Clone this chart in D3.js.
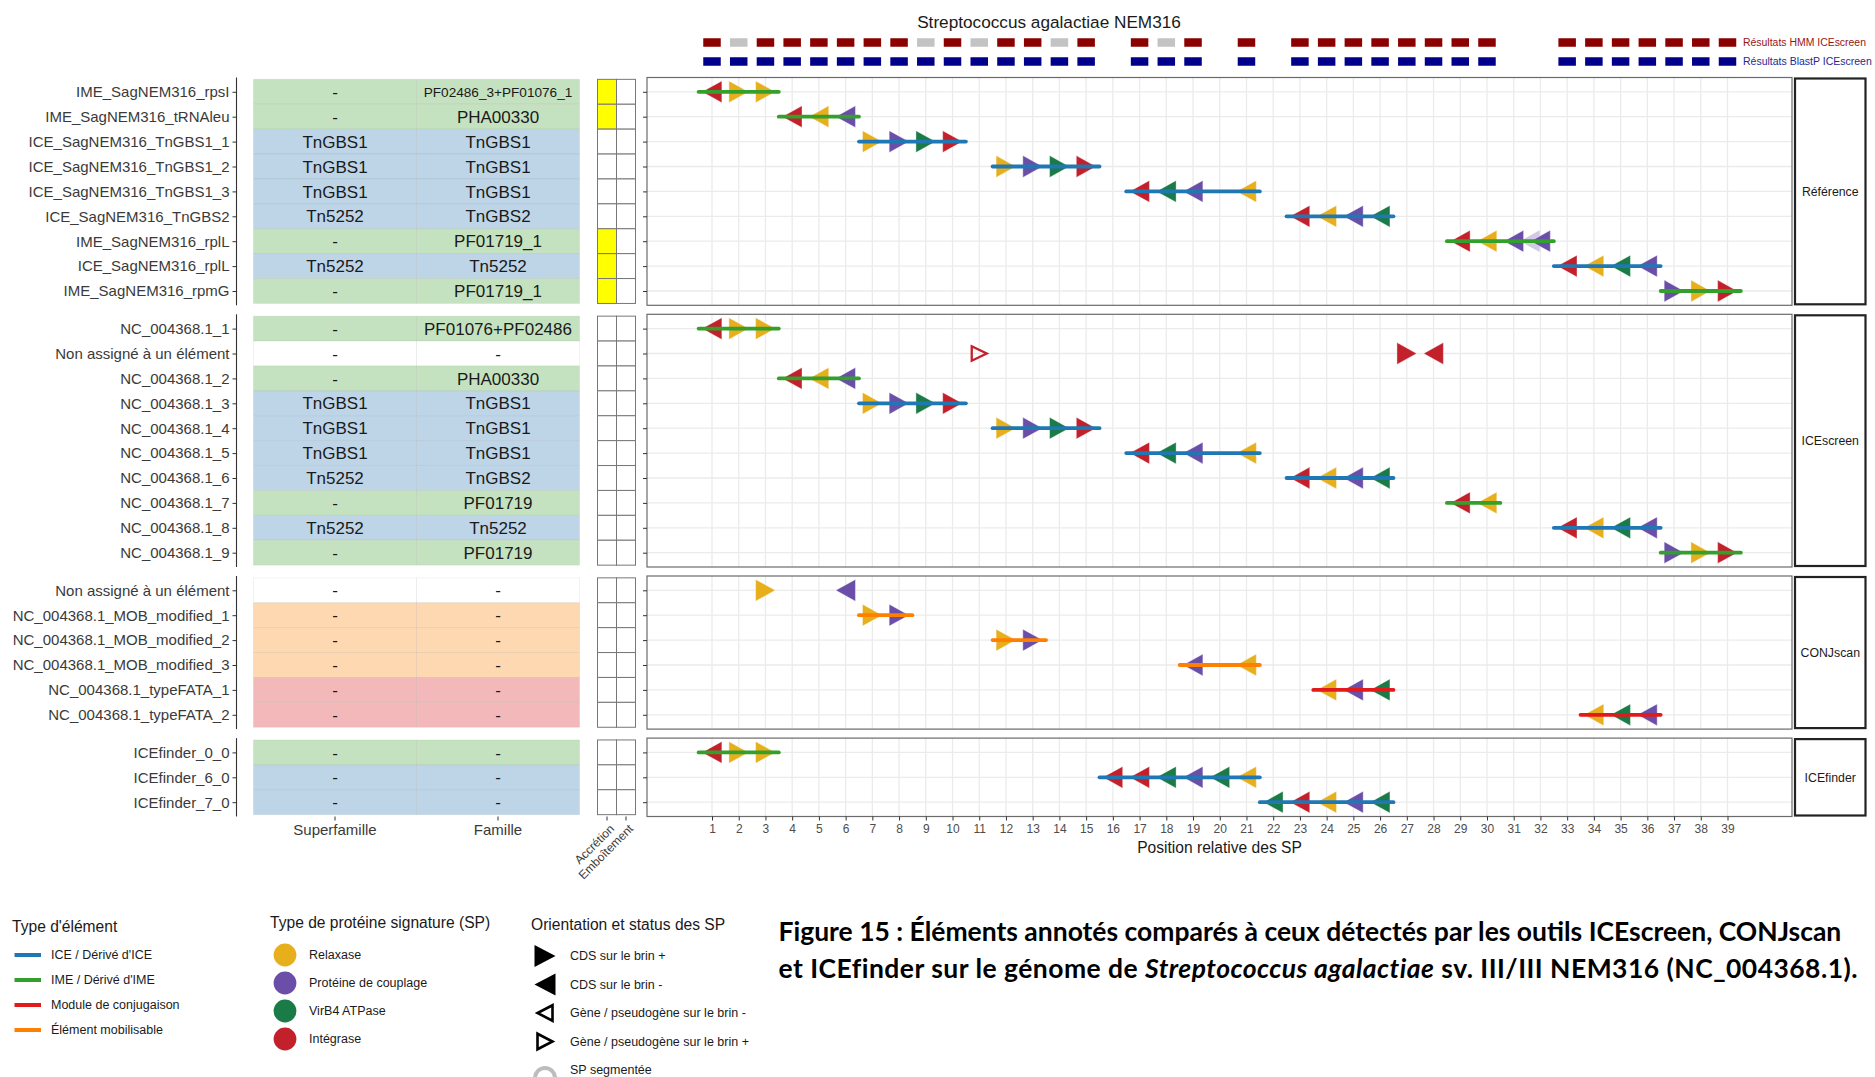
<!DOCTYPE html>
<html><head><meta charset="utf-8">
<script src="https://cdn.jsdelivr.net/npm/d3@7"></script>
<style>
body{margin:0;background:#fff}
svg{display:block}
text{font-family:"Liberation Sans",Arial,Helvetica,sans-serif}
</style>
</head><body>
<svg id="c" width="1875" height="1077"></svg>
<script>
// ================= DATA =================
const chartTitle = "Streptococcus agalactiae NEM316";
const facets = ["Référence", "ICEscreen", "CONJscan", "ICEfinder"];
const positions = d3.range(1, 40);
const hmmPositions = [1,2,3,4,5,6,7,8,9,10,11,12,13,14,15,17,18,19,21,23,24,25,26,27,28,29,30,33,34,35,36,37,38,39];
const hmmGrey = [2, 9, 11, 14, 18];
const blastPositions = [1,2,3,4,5,6,7,8,9,10,11,12,13,14,15,17,18,19,21,23,24,25,26,27,28,29,30,33,34,35,36,37,38,39];
const tableColumns = ["Superfamille", "Famille"];
const flagColumns = ["Accrétion", "Emboîtement"];

// rows: [name, superfamille, famille, category, accretion]
const rowsReference = [
  ["IME_SagNEM316_rpsI", "-", "PF02486_3+PF01076_1", "IME", 1],
  ["IME_SagNEM316_tRNAleu", "-", "PHA00330", "IME", 1],
  ["ICE_SagNEM316_TnGBS1_1", "TnGBS1", "TnGBS1", "ICE", 0],
  ["ICE_SagNEM316_TnGBS1_2", "TnGBS1", "TnGBS1", "ICE", 0],
  ["ICE_SagNEM316_TnGBS1_3", "TnGBS1", "TnGBS1", "ICE", 0],
  ["ICE_SagNEM316_TnGBS2", "Tn5252", "TnGBS2", "ICE", 0],
  ["IME_SagNEM316_rplL", "-", "PF01719_1", "IME", 1],
  ["ICE_SagNEM316_rplL", "Tn5252", "Tn5252", "ICE", 1],
  ["IME_SagNEM316_rpmG", "-", "PF01719_1", "IME", 1]
];
const rowsICEscreen = [
  ["NC_004368.1_1", "-", "PF01076+PF02486", "IME", 0],
  ["Non assigné à un élément", "-", "-", "NA", 0],
  ["NC_004368.1_2", "-", "PHA00330", "IME", 0],
  ["NC_004368.1_3", "TnGBS1", "TnGBS1", "ICE", 0],
  ["NC_004368.1_4", "TnGBS1", "TnGBS1", "ICE", 0],
  ["NC_004368.1_5", "TnGBS1", "TnGBS1", "ICE", 0],
  ["NC_004368.1_6", "Tn5252", "TnGBS2", "ICE", 0],
  ["NC_004368.1_7", "-", "PF01719", "IME", 0],
  ["NC_004368.1_8", "Tn5252", "Tn5252", "ICE", 0],
  ["NC_004368.1_9", "-", "PF01719", "IME", 0]
];
const rowsCONJscan = [
  ["Non assigné à un élément", "-", "-", "NA", 0],
  ["NC_004368.1_MOB_modified_1", "-", "-", "MOB", 0],
  ["NC_004368.1_MOB_modified_2", "-", "-", "MOB", 0],
  ["NC_004368.1_MOB_modified_3", "-", "-", "MOB", 0],
  ["NC_004368.1_typeFATA_1", "-", "-", "CONJ", 0],
  ["NC_004368.1_typeFATA_2", "-", "-", "CONJ", 0]
];
const rowsICEfinder = [
  ["ICEfinder_0_0", "-", "-", "IME", 0],
  ["ICEfinder_6_0", "-", "-", "ICE", 0],
  ["ICEfinder_7_0", "-", "-", "ICE", 0]
];

// elements: [rowIndex, type, firstSP, lastSP]
const elementsReference = [[0,"IME",1,3],[1,"IME",4,6],[2,"ICE",7,10],[3,"ICE",12,15],[4,"ICE",17,21],[5,"ICE",23,26],[6,"IME",29,32],[7,"ICE",33,36],[8,"IME",37,39]];
const elementsICEscreen = [[0,"IME",1,3],[2,"IME",4,6],[3,"ICE",7,10],[4,"ICE",12,15],[5,"ICE",17,21],[6,"ICE",23,26],[7,"IME",29,30],[8,"ICE",33,36],[9,"IME",37,39]];
const elementsCONJscan = [[1,"MOB",7,8],[2,"MOB",12,13],[3,"MOB",19,21],[4,"CONJ",24,26],[5,"CONJ",34,36]];
const elementsICEfinder = [[0,"IME",1,3],[1,"ICE",16,21],[2,"ICE",22,26]];

// signature proteins: [rowIndex, position, protein, strand, status]
const spReference = [
  [0,1,"Int","-","CDS"],[0,2,"Rel","+","CDS"],[0,3,"Rel","+","CDS"],
  [1,4,"Int","-","CDS"],[1,5,"Rel","-","CDS"],[1,6,"Cpl","-","CDS"],
  [2,7,"Rel","+","CDS"],[2,8,"Cpl","+","CDS"],[2,9,"VirB4","+","CDS"],[2,10,"Int","+","CDS"],
  [3,12,"Rel","+","CDS"],[3,13,"Cpl","+","CDS"],[3,14,"VirB4","+","CDS"],[3,15,"Int","+","CDS"],
  [4,17,"Int","-","CDS"],[4,18,"VirB4","-","CDS"],[4,19,"Cpl","-","CDS"],[4,21,"Rel","-","CDS"],
  [5,23,"Int","-","CDS"],[5,24,"Rel","-","CDS"],[5,25,"Cpl","-","CDS"],[5,26,"VirB4","-","CDS"],
  [6,29,"Int","-","CDS"],[6,30,"Rel","-","CDS"],[6,31,"Cpl","-","CDS"],[6,31.6,"Cpl","-","seg"],[6,32,"Cpl","-","CDS"],
  [7,33,"Int","-","CDS"],[7,34,"Rel","-","CDS"],[7,35,"VirB4","-","CDS"],[7,36,"Cpl","-","CDS"],
  [8,37,"Cpl","+","CDS"],[8,38,"Rel","+","CDS"],[8,39,"Int","+","CDS"]
];
const spICEscreen = [
  [0,1,"Int","-","CDS"],[0,2,"Rel","+","CDS"],[0,3,"Rel","+","CDS"],
  [1,11,"Int","+","gene"],[1,27,"Int","+","CDS"],[1,28,"Int","-","CDS"],
  [2,4,"Int","-","CDS"],[2,5,"Rel","-","CDS"],[2,6,"Cpl","-","CDS"],
  [3,7,"Rel","+","CDS"],[3,8,"Cpl","+","CDS"],[3,9,"VirB4","+","CDS"],[3,10,"Int","+","CDS"],
  [4,12,"Rel","+","CDS"],[4,13,"Cpl","+","CDS"],[4,14,"VirB4","+","CDS"],[4,15,"Int","+","CDS"],
  [5,17,"Int","-","CDS"],[5,18,"VirB4","-","CDS"],[5,19,"Cpl","-","CDS"],[5,21,"Rel","-","CDS"],
  [6,23,"Int","-","CDS"],[6,24,"Rel","-","CDS"],[6,25,"Cpl","-","CDS"],[6,26,"VirB4","-","CDS"],
  [7,29,"Int","-","CDS"],[7,30,"Rel","-","CDS"],
  [8,33,"Int","-","CDS"],[8,34,"Rel","-","CDS"],[8,35,"VirB4","-","CDS"],[8,36,"Cpl","-","CDS"],
  [9,37,"Cpl","+","CDS"],[9,38,"Rel","+","CDS"],[9,39,"Int","+","CDS"]
];
const spCONJscan = [
  [0,3,"Rel","+","CDS"],[0,6,"Cpl","-","CDS"],
  [1,7,"Rel","+","CDS"],[1,8,"Cpl","+","CDS"],
  [2,12,"Rel","+","CDS"],[2,13,"Cpl","+","CDS"],
  [3,19,"Cpl","-","CDS"],[3,21,"Rel","-","CDS"],
  [4,24,"Rel","-","CDS"],[4,25,"Cpl","-","CDS"],[4,26,"VirB4","-","CDS"],
  [5,34,"Rel","-","CDS"],[5,35,"VirB4","-","CDS"],[5,36,"Cpl","-","CDS"]
];
const spICEfinder = [
  [0,1,"Int","-","CDS"],[0,2,"Rel","+","CDS"],[0,3,"Rel","+","CDS"],
  [1,16,"Int","-","CDS"],[1,17,"Int","-","CDS"],[1,18,"VirB4","-","CDS"],[1,19,"Cpl","-","CDS"],[1,20,"VirB4","-","CDS"],[1,21,"Rel","-","CDS"],
  [2,22,"VirB4","-","CDS"],[2,23,"Int","-","CDS"],[2,24,"Rel","-","CDS"],[2,25,"Cpl","-","CDS"],[2,26,"VirB4","-","CDS"]
];

const elementTypes = ["ICE","IME","CONJ","MOB"];
const elementLabels = ["ICE / Dérivé d'ICE","IME / Dérivé d'IME","Module de conjugaison","Élément mobilisable"];
const proteinTypes = ["Rel","Cpl","VirB4","Int"];
const proteinLabels = ["Relaxase","Protéine de couplage","VirB4 ATPase","Intégrase"];
const orientationLabels = ["CDS sur le brin +","CDS sur le brin -","Gène / pseudogène sur le brin -","Gène / pseudogène sur le brin +","SP segmentée"];
const captionLine1 = "Figure 15 : Éléments annotés comparés à ceux détectés par les outils ICEscreen, CONJscan";
const captionLine2 = ["et ICEfinder sur le génome de ", "Streptococcus agalactiae", " sv. III/III NEM316 (NC_004368.1)."];

// ================= STYLE =================
const elementColor = d3.scaleOrdinal().domain(elementTypes).range(["#1F78B4","#33A02C","#E31A1C","#FF7F00"]);
const proteinColor = d3.scaleOrdinal().domain(proteinTypes).range(["#E8AF1D","#6A4EA8","#1B7B46","#C2202B"]);
const tileColor = d3.scaleOrdinal().domain(["IME","ICE","MOB","CONJ","NA"]).range(["#C5E2C0","#BDD5E7","#FDD8B0","#F3B8B9","#FFFFFF"]);

const allRows = [rowsReference, rowsICEscreen, rowsCONJscan, rowsICEfinder];
const allElements = [elementsReference, elementsICEscreen, elementsCONJscan, elementsICEfinder];
const allSP = [spReference, spICEscreen, spCONJscan, spICEfinder];

const svg = d3.select("#c");
const panelX0 = 647, panelX1 = 1792;
const x = d3.scaleLinear().domain([1, 39]).range([712, 1727.5]);
const tableX = d3.scaleBand().domain(tableColumns).range([253.5, 579.5]);
const flagX = d3.scaleBand().domain(flagColumns).range([597.5, 635.5]);
const rowStep = 24.9, pad = 14.3, gapF = 9;
const triW = 19.7, triH = 21.8;
const stripX0 = 1795, stripX1 = 1865.5;

function triPath(cx, cy, dir, w, h) {
  const hw = w / 2, hh = h / 2;
  if (dir === "+") return `M${cx-hw},${cy-hh}L${cx+hw},${cy}L${cx-hw},${cy+hh}Z`;
  return `M${cx+hw},${cy-hh}L${cx-hw},${cy}L${cx+hw},${cy+hh}Z`;
}

// title
svg.append("text").attr("x", 1049).attr("y", 21.5).attr("dy", ".35em")
  .attr("text-anchor", "middle").attr("font-size", 17.2).attr("fill", "#1a1a1a").text(chartTitle);

// HMM / BlastP squares
const sqW = 17.5, sqH = 8.5;
svg.append("g").selectAll("rect").data(hmmPositions).join("rect")
  .attr("x", d => x(d) - sqW / 2).attr("y", 42.5 - sqH / 2).attr("width", sqW).attr("height", sqH)
  .attr("fill", d => hmmGrey.includes(d) ? "#C3C3C3" : "#8B0000");
svg.append("g").selectAll("rect").data(blastPositions).join("rect")
  .attr("x", d => x(d) - sqW / 2).attr("y", 61.5 - sqH / 2).attr("width", sqW).attr("height", sqH)
  .attr("fill", "#00008B");
const hmmT = svg.append("text").attr("x", 1743).attr("y", 42.5).attr("dy", ".35em")
  .attr("font-size", 12).attr("fill", "#9A1515").style("font-family", '"Liberation Sans Narrow","Liberation Sans",Arial,sans-serif')
  .text("Résultats HMM ICEscreen");
const blT = svg.append("text").attr("x", 1743).attr("y", 61.5).attr("dy", ".35em")
  .attr("font-size", 12).attr("fill", "#1F2A8F").style("font-family", '"Liberation Sans Narrow","Liberation Sans",Arial,sans-serif')
  .text("Résultats BlastP ICEscreen");
[[hmmT, 123], [blT, 129]].forEach(([t, w]) => {
  const l = t.node().getComputedTextLength();
  t.attr("font-size", 12 * w / l);
});

// facets
let facetTop = 77.5;
let lastBottom = 0;
facets.forEach((facet, fi) => {
  const rows = allRows[fi];
  const n = rows.length;
  const h = (n - 1) * rowStep + 2 * pad;
  const t0 = facetTop;
  const bottom = t0 + h;
  lastBottom = bottom;
  const y = d3.scalePoint().domain(d3.range(n)).range([t0 + pad, bottom - pad]);
  const g = svg.append("g");

  // panel background + grid
  g.append("rect").attr("x", panelX0).attr("y", t0).attr("width", panelX1 - panelX0).attr("height", h).attr("fill", "#fff");
  g.append("g").selectAll("line").data(positions).join("line")
    .attr("x1", d => x(d)).attr("x2", d => x(d)).attr("y1", t0).attr("y2", bottom)
    .attr("stroke", "#EBEBEB").attr("stroke-width", 1.3);
  g.append("g").selectAll("line").data(d3.range(n)).join("line")
    .attr("x1", panelX0).attr("x2", panelX1).attr("y1", d => y(d)).attr("y2", d => y(d))
    .attr("stroke", "#EBEBEB").attr("stroke-width", 1.3);

  // signature proteins
  const sps = allSP[fi];
  g.append("g").selectAll("path").data(sps.filter(d => d[4] !== "gene")).join("path")
    .attr("d", d => triPath(x(d[1]), y(d[0]), d[3], triW, triH))
    .attr("fill", d => proteinColor(d[2]))
    .attr("fill-opacity", d => d[4] === "seg" ? 0.3 : 1)
    .attr("stroke", "#fff").attr("stroke-width", 0.7).attr("stroke-opacity", d => d[4] === "seg" ? 0 : 0.55);
  g.append("g").selectAll("path").data(sps.filter(d => d[4] === "gene")).join("path")
    .attr("d", d => triPath(x(d[1]), y(d[0]), d[3], 15, 14.5))
    .attr("fill", "none").attr("stroke", d => proteinColor(d[2])).attr("stroke-width", 2.3);

  // elements
  g.append("g").selectAll("line").data(allElements[fi]).join("line")
    .attr("x1", d => x(d[2] - 0.5)).attr("x2", d => x(d[3] + 0.5))
    .attr("y1", d => y(d[0])).attr("y2", d => y(d[0]))
    .attr("stroke", d => elementColor(d[1])).attr("stroke-width", 3.8).attr("stroke-linecap", "round");

  // panel border
  g.append("rect").attr("x", panelX0).attr("y", t0).attr("width", panelX1 - panelX0).attr("height", h)
    .attr("fill", "none").attr("stroke", "#6b6b6b").attr("stroke-width", 1.2);

  // main panel y ticks
  const ya = g.append("g").attr("transform", `translate(${panelX0},0)`)
    .call(d3.axisLeft(y).tickSize(4).tickFormat(""));
  ya.select(".domain").remove();
  ya.selectAll("line").attr("stroke", "#333");

  // strip
  g.append("rect").attr("x", stripX0).attr("y", t0 + 1).attr("width", stripX1 - stripX0).attr("height", h - 2)
    .attr("fill", "#fff").attr("stroke", "#222").attr("stroke-width", 2.2);
  g.append("text").attr("x", (stripX0 + stripX1) / 2).attr("y", t0 + h / 2).attr("dy", ".35em").attr("text-anchor", "middle")
    .attr("font-size", 12.3).attr("fill", "#1a1a1a").text(facet);

  // table tiles
  const cells = [];
  rows.forEach((r, ri) => tableColumns.forEach((c, ci) => cells.push({ri, c, txt: r[1 + ci], cat: r[3]})));
  g.append("g").selectAll("rect").data(cells).join("rect")
    .attr("x", d => tableX(d.c)).attr("y", d => y(d.ri) - rowStep / 2)
    .attr("width", tableX.bandwidth()).attr("height", rowStep)
    .attr("fill", d => tileColor(d.cat)).attr("stroke", "#000").attr("stroke-opacity", 0.05).attr("stroke-width", 1);
  g.append("g").selectAll("text").data(cells).join("text")
    .attr("x", d => tableX(d.c) + tableX.bandwidth() / 2).attr("y", d => y(d.ri)).attr("dy", ".36em")
    .attr("text-anchor", "middle").attr("fill", "#1a1a1a")
    .attr("font-size", d => d.txt.length > 16 ? 13.6 : 17)
    .text(d => d.txt);

  // accretion / emboitement cells
  const flags = [];
  rows.forEach((r, ri) => flagColumns.forEach((c, ci) => flags.push({ri, c, on: ci === 0 && r[4] === 1})));
  g.append("g").selectAll("rect").data(flags).join("rect")
    .attr("x", d => flagX(d.c)).attr("y", d => y(d.ri) - rowStep / 2)
    .attr("width", flagX.bandwidth()).attr("height", rowStep)
    .attr("fill", d => d.on ? "#FFFF00" : "#fff").attr("stroke", "#777").attr("stroke-width", 1);

  // left labels
  const la = g.append("g").attr("transform", "translate(236.5,0)")
    .call(d3.axisLeft(y).tickSize(4).tickPadding(3).tickFormat(i => rows[i][0]));
  la.select(".domain").remove();
  la.selectAll("line").attr("stroke", "#333");
  la.selectAll("text").attr("font-size", 15).attr("fill", "#3a3a3a").style("font-family", '"Liberation Sans",Arial,sans-serif');
  g.append("line").attr("x1", 236.5).attr("x2", 236.5).attr("y1", t0).attr("y2", bottom)
    .attr("stroke", "#333").attr("stroke-width", 1.1);

  facetTop = bottom + gapF;
});

// bottom x axis
const xa = svg.append("g").attr("transform", `translate(0,${lastBottom})`)
  .call(d3.axisBottom(x).tickValues(positions).tickSize(4).tickPadding(4));
xa.select(".domain").remove();
xa.selectAll("line").attr("stroke", "#333");
xa.selectAll("text").attr("font-size", 12).attr("fill", "#4d4d4d").style("font-family", '"Liberation Sans",Arial,sans-serif');
svg.append("text").attr("x", (panelX0 + panelX1) / 2).attr("y", 848).attr("dy", ".35em").attr("text-anchor", "middle")
  .attr("font-size", 15.6).attr("fill", "#1a1a1a").text("Position relative des SP");

// table x axis
const ta = svg.append("g").attr("transform", `translate(0,${lastBottom})`)
  .call(d3.axisBottom(tableX).tickSize(4).tickPadding(4));
ta.select(".domain").remove();
ta.selectAll("line").attr("stroke", "#333");
ta.selectAll("text").attr("font-size", 15).attr("fill", "#3a3a3a").style("font-family", '"Liberation Sans",Arial,sans-serif');

// flag axis
const fa = svg.append("g").attr("transform", `translate(0,${lastBottom})`)
  .call(d3.axisBottom(flagX).tickSize(4).tickFormat(""));
fa.select(".domain").remove();
fa.selectAll("line").attr("stroke", "#333");
svg.append("g").selectAll("text").data(flagColumns).join("text")
  .attr("transform", d => `translate(${flagX(d) + flagX.bandwidth() / 2 + 5},${lastBottom + 10}) rotate(-45)`)
  .attr("text-anchor", "end").attr("dy", ".35em").attr("font-size", 12).attr("fill", "#3a3a3a").text(d => d);

// ============== LEGENDS ==============
const legTitle = 15.6;
const lg = svg.append("g");
lg.append("text").attr("x", 12).attr("y", 927).attr("dy", ".35em").attr("font-size", legTitle).attr("fill", "#1a1a1a").text("Type d'élément");
const legY1 = d3.scalePoint().domain(elementTypes).range([955, 1030]);
lg.append("g").selectAll("line").data(elementTypes).join("line")
  .attr("x1", 14.5).attr("x2", 41).attr("y1", d => legY1(d)).attr("y2", d => legY1(d))
  .attr("stroke", d => elementColor(d)).attr("stroke-width", 4);
lg.append("g").selectAll("text").data(elementTypes).join("text")
  .attr("x", 51).attr("y", d => legY1(d)).attr("dy", ".35em").attr("font-size", 12.5).attr("fill", "#1a1a1a")
  .text((d, i) => elementLabels[i]);

lg.append("text").attr("x", 270).attr("y", 923).attr("dy", ".35em").attr("font-size", legTitle).attr("fill", "#1a1a1a").text("Type de protéine signature (SP)");
const legY2 = d3.scalePoint().domain(proteinTypes).range([955, 1039]);
lg.append("g").selectAll("circle").data(proteinTypes).join("circle")
  .attr("cx", 285).attr("cy", d => legY2(d)).attr("r", 11.4).attr("fill", d => proteinColor(d));
lg.append("g").selectAll("text").data(proteinTypes).join("text")
  .attr("x", 309).attr("y", d => legY2(d)).attr("dy", ".35em").attr("font-size", 12.5).attr("fill", "#1a1a1a")
  .text((d, i) => proteinLabels[i]);

lg.append("text").attr("x", 531).attr("y", 925).attr("dy", ".35em").attr("font-size", legTitle).attr("fill", "#1a1a1a").text("Orientation et status des SP");
const legY3 = d3.scalePoint().domain(d3.range(5)).range([956, 1070]);
const oriSym = [["+", "fill"], ["-", "fill"], ["-", "open"], ["+", "open"]];
lg.append("g").selectAll("path").data(oriSym).join("path")
  .attr("d", (d, i) => d[1] === "fill" ? triPath(545, legY3(i), d[0], 21, 22) : triPath(545, legY3(i), d[0], 15, 15.5))
  .attr("fill", d => d[1] === "fill" ? "#000" : "none")
  .attr("stroke", d => d[1] === "fill" ? "none" : "#000").attr("stroke-width", 2.6);
lg.append("path").attr("d", `M535,${legY3(4) + 8} A10,10 0 0 1 555,${legY3(4) + 8}`)
  .attr("fill", "none").attr("stroke", "#BDBDBD").attr("stroke-width", 4);
lg.append("g").selectAll("text").data(orientationLabels).join("text")
  .attr("x", 570).attr("y", (d, i) => legY3(i)).attr("dy", ".35em").attr("font-size", 12.5).attr("fill", "#1a1a1a")
  .text(d => d);

// ============== CAPTION ==============
const capFont = 'Lato,"Liberation Sans",Arial,sans-serif';
const c1 = svg.append("text").attr("x", 778.5).attr("y", 931.5).attr("dy", ".35em")
  .attr("font-size", 22).attr("font-weight", 700).attr("fill", "#000").style("font-family", capFont).text(captionLine1);
const fs = 22 * 1063 / c1.node().getComputedTextLength();
c1.attr("font-size", fs);
const c2 = svg.append("text").attr("x", 778.5).attr("y", 968.5).attr("dy", ".35em")
  .attr("font-size", fs).attr("font-weight", 700).attr("fill", "#000").style("font-family", capFont);
captionLine2.forEach((t, i) => c2.append("tspan").attr("font-style", i === 1 ? "italic" : "normal").text(t));
const l2 = c2.node().getComputedTextLength();
const nChars = captionLine2.join("").length;
c2.attr("letter-spacing", (1079 - l2) / nChars);
</script>
</body></html>
